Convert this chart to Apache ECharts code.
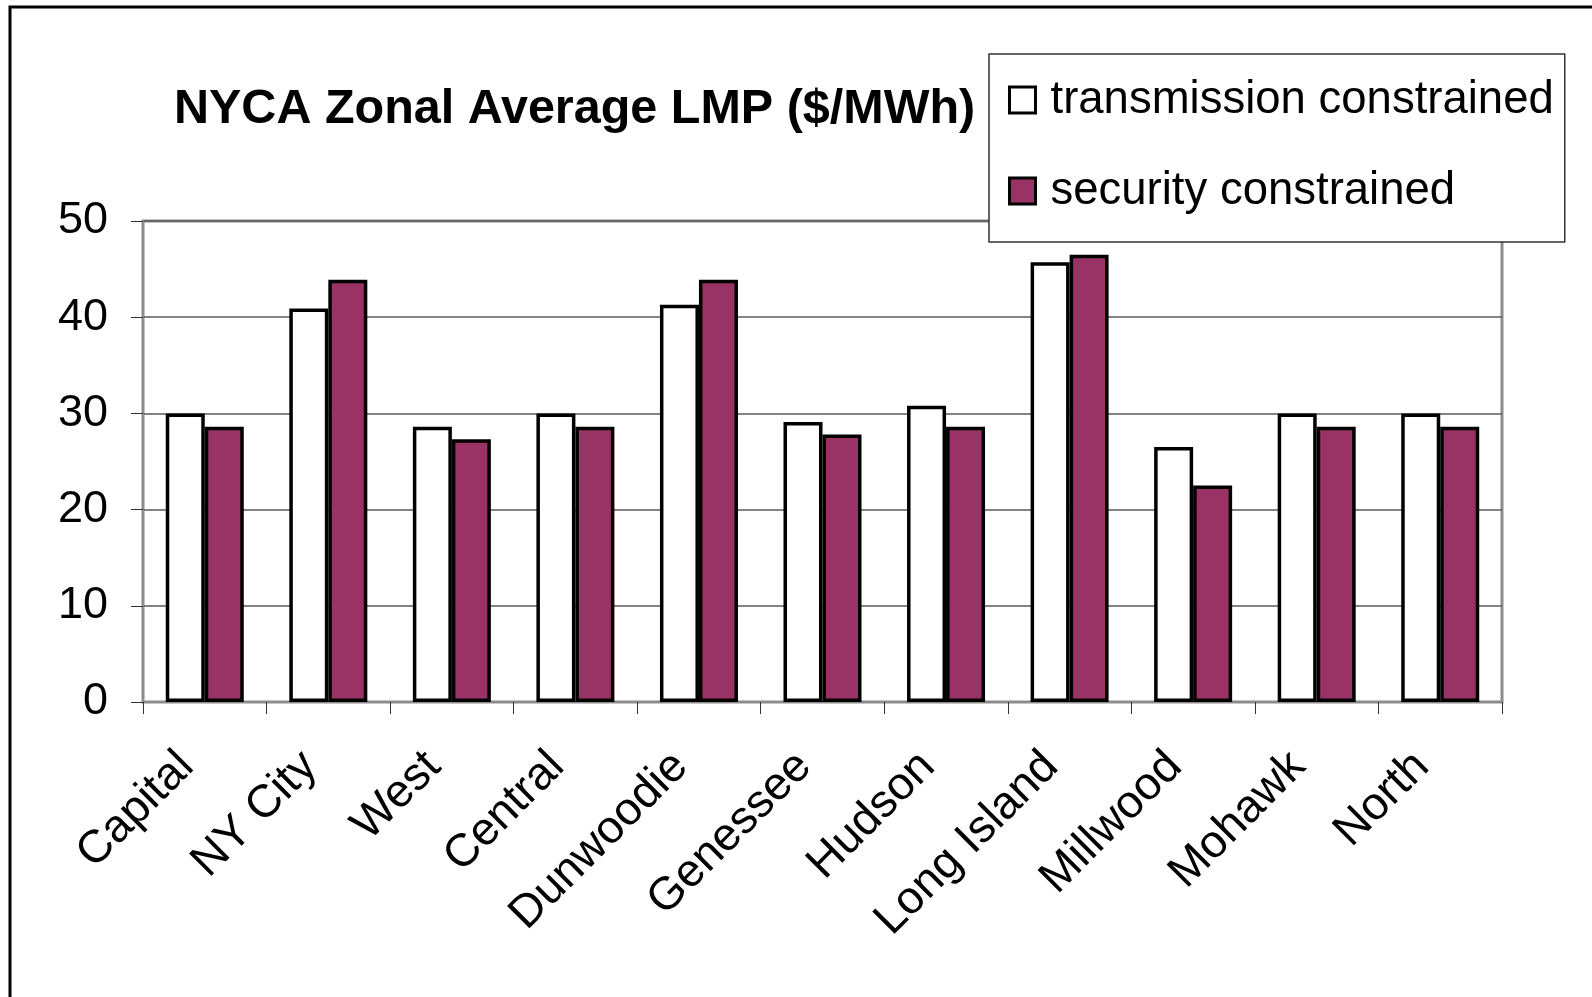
<!DOCTYPE html>
<html>
<head>
<meta charset="utf-8">
<title>NYCA Zonal Average LMP</title>
<script src="https://cdn.jsdelivr.net/npm/echarts@6/dist/echarts.min.js"></script>
<style>
  html, body { margin: 0; padding: 0; background: #fff; }
  #chart { width: 1592px; height: 997px; }
</style>
</head>
<body>
<div id="chart"></div>
<script>
// zones (x axis)
const zones = ["Capital", "NY City", "West", "Central", "Dunwoodie", "Genessee",
  "Hudson", "Long Island", "Millwood", "Mohawk", "North"];
// $/MWh
const transmission = [30.0, 40.9, 28.6, 30.0, 41.3, 29.1, 30.8, 45.7, 26.5, 30.0, 30.0];
const security = [28.6, 43.9, 27.3, 28.6, 43.9, 27.8, 28.6, 46.5, 22.5, 28.6, 28.6];
const yTicks = [0, 10, 20, 30, 40, 50];

const FONT = "'Liberation Sans', Arial, sans-serif";

const chart = echarts.init(document.getElementById("chart"));

const option = {
  animation: false,
  backgroundColor: "#fff",
  title: {
    text: "NYCA Zonal Average LMP ($/MWh)",
    left: 174,
    top: 85,
    padding: 0,
    textStyle: { fontFamily: FONT, fontSize: 48.5, fontWeight: "bold", color: "#000" },
  },
  legend: {
    orient: "vertical",
    left: 989,
    top: 54,
    padding: [21, 11, 26, 19],
    itemGap: 41,
    itemWidth: 26,
    itemHeight: 26,
    icon: "rect",
    backgroundColor: "#fff",
    borderColor: "#333",
    borderWidth: 1.5,
    borderRadius: 0,
    itemStyle: { borderColor: "#000", borderWidth: 3 },
    textStyle: { fontFamily: FONT, fontSize: 45.5, color: "#000", lineHeight: 50, padding: [0, 0, 0, 10] },
    data: ["transmission constrained", "security constrained"],
  },
  // 外框
  graphic: [
    {
      type: "rect",
      silent: true,
      shape: { x: 10, y: 7, width: 1700, height: 1100 },
      style: { fill: "none", stroke: "#000", lineWidth: 3 },
    },
  ],
  grid: {
    left: 143,
    top: 221,
    width: 1359,
    height: 481,
    show: true,
    borderColor: "#8c8c8c",
    borderWidth: 3,
  },
  xAxis: {
    type: "category",
    data: zones,
    axisLine: { lineStyle: { color: "#8c8c8c", width: 2 } },
    axisTick: { show: true, length: 12, lineStyle: { color: "#333", width: 1 } },
    axisLabel: {
      interval: 0,
      rotate: 45,
      margin: 39,
      padding: [0, 26, 0, 0],
      fontFamily: FONT,
      fontSize: 46,
      color: "#000",
    },
  },
  yAxis: {
    type: "value",
    min: yTicks[0],
    max: yTicks[yTicks.length - 1],
    interval: 10,
    axisLine: { show: true, lineStyle: { color: "#8c8c8c", width: 2 } },
    axisTick: { show: true, length: 12, lineStyle: { color: "#333", width: 1 } },
    splitLine: { lineStyle: { color: "#5a5a5a", width: 1.5 } },
    axisLabel: { margin: 35, fontFamily: FONT, fontSize: 45, color: "#000" },
  },
  series: [
    {
      name: "transmission constrained",
      type: "bar",
      barWidth: 39,
      barGap: "0%",
      itemStyle: { color: "#fff", borderColor: "#000", borderWidth: 3.5 },
      data: transmission,
    },
    {
      name: "security constrained",
      type: "bar",
      barWidth: 39,
      itemStyle: { color: "#993366", borderColor: "#000", borderWidth: 3.5 },
      data: security,
    },
  ],
};

chart.setOption(option);
</script>
</body>
</html>
